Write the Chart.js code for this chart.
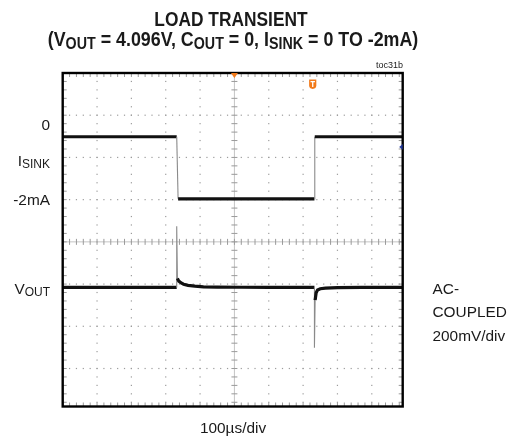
<!DOCTYPE html>
<html>
<head>
<meta charset="utf-8">
<script src="https://cdn.jsdelivr.net/npm/chart.js@4.4.1/dist/chart.umd.min.js"></script>
<style>
  html, body { margin: 0; padding: 0; background: #fff; }
  #wrap { position: relative; width: 513px; height: 442px; overflow: hidden;
          font-family: "Liberation Sans", Arial, sans-serif; color: #1a1a1a; }
  #scope { position: absolute; left: 0; top: 0; }
  .t { position: absolute; white-space: nowrap; font-size: 15.4px; line-height: 18px; }
  .r { text-align: right; }
  .title { font-weight: bold; font-size: 19.5px; line-height: 20px; left: 231px;
           transform: translateX(-50%) scaleX(0.89); transform-origin: 50% 50%; }
  .title.l2 { left: 232.5px; transform: translateX(-50%) scaleX(0.915); }
  .s { font-size: 78%; position: relative; top: 0.22em; }
  .title .s { font-size: 80%; top: 0.2em; }
</style>
</head>
<body>
<div id="wrap">
  <canvas id="scope" width="513" height="442"></canvas>

  <div class="t title" style="top:9px;">LOAD TRANSIENT</div>
  <div class="t title l2" style="top:29px;">(V<span class="s">OUT</span> = 4.096V, C<span class="s">OUT</span> = 0, I<span class="s">SINK</span> = 0 TO -2mA)</div>
  <div class="t r" style="right:110px; top:60px; font-size:9px; line-height:10px;">toc31b</div>

  <div class="t r" style="right:463px; top:116px;">0</div>
  <div class="t r" style="right:463px; top:151.5px;">I<span class="s">SINK</span></div>
  <div class="t r" style="right:463px; top:190.5px;">-2mA</div>
  <div class="t r" style="right:463px; top:279.5px;">V<span class="s">OUT</span></div>

  <div class="t" style="left:432.5px; top:280px;">AC-</div>
  <div class="t" style="left:432.5px; top:303px;">COUPLED</div>
  <div class="t" style="left:432.5px; top:327px;">200mV/div</div>

  <div class="t" style="left:233px; top:419px; transform:translateX(-50%);">100µs/div</div>
</div>

<script>
// ---- time base: 100 µs per division, screen spans 0 .. 990 µs ----
const timeMin = 0;
const timeMax = 990;
const timeTickUs = [0, 100, 200, 300, 400, 500, 600, 700, 800, 900];

// ---- vertical graticule, in divisions ----
const divMin = 0.1;
const divMax = 8;

// ---- channel 1: sink current (mA) ----
const iSinkZeroDiv = 6.49;
const iSinkMaPerDiv = 1.36;
const iSinkTimeUs = [0, 332, 336, 733, 734, 990];
const iSinkMa     = [0, 0, -2, -2, 0, 0];

// ---- channel 2: output voltage, AC-coupled (mV), 200 mV/div ----
const voutZeroDiv = 2.92;
const voutMvPerDiv = 200;
const voutTimeUs = [0, 332, 332, 334, 338, 345, 352, 365, 385, 410, 450, 520, 600,
                    733, 733, 735, 738, 742, 750, 765, 800, 870, 990];
const voutMv     = [0, 0, 290, 43, 30, 21, 15, 10, 6, 3, 2, 1, 0,
                    0, -286, -60, -25, -12, -6, -3, -1, 0, 0];

// ---- scope markers ----
const triggerPosUs = 500;     // trigger position marker on the top edge
const triggerPointUs = 728;   // "T" flag
const triggerFlagDiv = 7.74;
const ch1LevelDiv = 6.25;     // channel level arrow on the right edge

const toPoints = (xs, ys) => xs.map((x, i) => ({ x, y: ys[i] }));

// fast edges are drawn faint and thin, settled trace thick and dark
const isFastEdge = c => Math.abs(c.p1.x - c.p0.x) < 3 && Math.abs(c.p1.y - c.p0.y) > 8;
const traceSegment = {
  borderColor: c => isFastEdge(c) ? '#8a8a8a' : '#111111',
  borderWidth: c => isFastEdge(c) ? 1.1 : 3.2
};

const graticule = {
  id: 'graticule',
  beforeDatasetsDraw(chart) {
    const { ctx, chartArea: a, scales } = chart;
    const x = scales.x, y = scales.yDiv;
    ctx.save();
    ctx.beginPath();
    ctx.rect(a.left, a.top, a.right - a.left, a.bottom - a.top);
    ctx.clip();

    // dotted division lines, one dot every fifth of a division
    ctx.fillStyle = '#9c9c9c';
    timeTickUs.forEach(t => {
      if (t === 0 || t === triggerPosUs) return;
      const px = x.getPixelForValue(t);
      for (let m = 0; m <= divMax * 5; m++) {
        const py = y.getPixelForValue(m / 5);
        ctx.fillRect(px - 0.6, py - 0.6, 1.2, 1.2);
      }
    });
    for (let d = 1; d < divMax; d++) {
      if (d === 4) continue;
      const py = y.getPixelForValue(d);
      for (let t = timeMin; t <= timeMax; t += 20) {
        const px = x.getPixelForValue(t);
        ctx.fillRect(px - 0.6, py - 0.6, 1.2, 1.2);
      }
    }

    // centre cross with minor ticks
    const cx = x.getPixelForValue(triggerPosUs);
    const cy = y.getPixelForValue(4);
    ctx.strokeStyle = '#c4c4c4';
    ctx.lineWidth = 1;
    ctx.beginPath();
    ctx.moveTo(cx, a.top); ctx.lineTo(cx, a.bottom);
    ctx.moveTo(a.left, cy); ctx.lineTo(a.right, cy);
    ctx.stroke();
    ctx.strokeStyle = '#9a9a9a';
    ctx.beginPath();
    for (let m = 0; m <= divMax * 5; m++) {
      const py = y.getPixelForValue(m / 5);
      ctx.moveTo(cx - 3, py); ctx.lineTo(cx + 3, py);
    }
    for (let t = timeMin; t <= timeMax; t += 20) {
      const px = x.getPixelForValue(t);
      ctx.moveTo(px, cy - 3); ctx.lineTo(px, cy + 3);
    }
    // small ticks along the frame
    for (let t = timeMin; t <= timeMax; t += 20) {
      const px = x.getPixelForValue(t);
      ctx.moveTo(px, a.top); ctx.lineTo(px, a.top + 4);
      ctx.moveTo(px, a.bottom); ctx.lineTo(px, a.bottom - 4);
    }
    for (let m = 0; m <= divMax * 5; m++) {
      const py = y.getPixelForValue(m / 5);
      ctx.moveTo(a.left, py); ctx.lineTo(a.left + 4, py);
      ctx.moveTo(a.right, py); ctx.lineTo(a.right - 4, py);
    }
    ctx.stroke();
    ctx.restore();
  }
};

const frameAndMarkers = {
  id: 'frameAndMarkers',
  afterDatasetsDraw(chart) {
    const { ctx, chartArea: a, scales } = chart;
    const x = scales.x, y = scales.yDiv;
    ctx.save();
    // frame
    ctx.strokeStyle = '#000';
    ctx.lineWidth = 2.4;
    ctx.strokeRect(a.left, a.top, a.right - a.left, a.bottom - a.top);

    // trigger position arrow
    const tx = x.getPixelForValue(triggerPosUs);
    ctx.fillStyle = '#f27a1a';
    ctx.beginPath();
    ctx.moveTo(tx - 3.5, a.top); ctx.lineTo(tx + 3.5, a.top); ctx.lineTo(tx, a.top + 5);
    ctx.closePath(); ctx.fill();

    // trigger flag
    const fx = x.getPixelForValue(triggerPointUs);
    const fy = y.getPixelForValue(triggerFlagDiv);
    ctx.beginPath();
    ctx.moveTo(fx - 3.6, fy - 4.5);
    ctx.lineTo(fx + 3.6, fy - 4.5);
    ctx.lineTo(fx + 3.6, fy + 1.5);
    ctx.quadraticCurveTo(fx + 3.6, fy + 4.5, fx, fy + 5);
    ctx.quadraticCurveTo(fx - 3.6, fy + 4.5, fx - 3.6, fy + 1.5);
    ctx.closePath(); ctx.fill();
    ctx.fillStyle = '#fff';
    ctx.fillRect(fx - 2.2, fy - 3, 4.4, 1.3);
    ctx.fillRect(fx - 0.65, fy - 3, 1.3, 6);

    // channel level arrow
    const ly = y.getPixelForValue(ch1LevelDiv);
    ctx.fillStyle = '#22389a';
    ctx.beginPath();
    ctx.moveTo(a.right - 3.5, ly); ctx.lineTo(a.right, ly - 2.8); ctx.lineTo(a.right, ly + 2.8);
    ctx.closePath(); ctx.fill();
    ctx.restore();
  }
};

new Chart(document.getElementById('scope'), {
  type: 'line',
  data: {
    datasets: [
      {
        label: 'ISINK',
        data: toPoints(iSinkTimeUs, iSinkMa),
        yAxisID: 'yI',
        borderColor: '#111111',
        borderWidth: 3.2,
        segment: traceSegment
      },
      {
        label: 'VOUT',
        data: toPoints(voutTimeUs, voutMv),
        yAxisID: 'yV',
        borderColor: '#111111',
        borderWidth: 3.2,
        segment: traceSegment
      }
    ]
  },
  options: {
    responsive: false,
    animation: false,
    devicePixelRatio: 1,
    layout: { padding: { left: 62.7, right: 110.3, top: 73, bottom: 35.5 } },
    elements: { point: { radius: 0 }, line: { tension: 0, borderCapStyle: 'butt', borderJoinStyle: 'miter' } },
    plugins: { legend: { display: false }, tooltip: { enabled: false } },
    scales: {
      x: { type: 'linear', min: timeMin, max: timeMax, display: false },
      yDiv: { type: 'linear', min: divMin, max: divMax, display: false },
      yI: { type: 'linear', display: false,
            min: (divMin - iSinkZeroDiv) * iSinkMaPerDiv,
            max: (divMax - iSinkZeroDiv) * iSinkMaPerDiv },
      yV: { type: 'linear', display: false,
            min: (divMin - voutZeroDiv) * voutMvPerDiv,
            max: (divMax - voutZeroDiv) * voutMvPerDiv }
    }
  },
  plugins: [graticule, frameAndMarkers]
});
</script>
</body>
</html>
